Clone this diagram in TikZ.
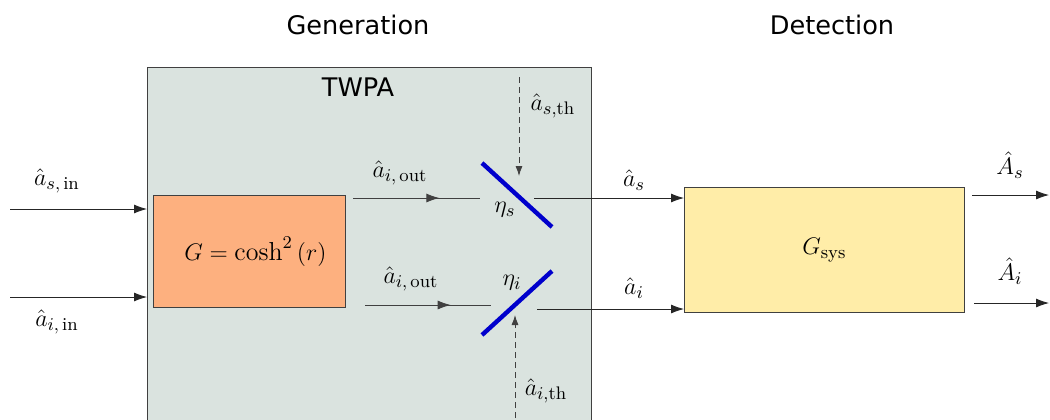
\documentclass[tikz,border=0pt]{standalone}
\usepackage{amsmath,amssymb}
\usepackage{fontspec}
\setsansfont{DejaVu Sans}
\usetikzlibrary{arrows.meta,decorations.markings}
\definecolor{twpagrey}{HTML}{DAE3DF}
\definecolor{pumporange}{HTML}{FDB07F}
\definecolor{sysyellow}{HTML}{FFEDA8}

\begin{document}
\begin{tikzpicture}[x=0.5pt,y=-0.5pt,
    blk/.style={draw=black!75, inner sep=0pt, anchor=north west},
    sig/.style={-{Latex[length=6.5pt,width=4.5pt]}, black!85},
    midsig/.style={black!75, postaction={decorate},
      decoration={markings, mark=at position 0.68 with {\arrow{Latex[length=6.5pt,width=4.5pt]}}}},
    therm/.style={densely dashed, black!75, -{Latex[length=5pt,width=3.5pt]}},
    bsplit/.style={blue!80!black, line width=2.2pt},
    lbl/.style={font=\fontsize{13}{15}\selectfont},
    head/.style={font=\sffamily\fontsize{12.8}{15}\selectfont}]
    \useasboundingbox (0,0) rectangle (1050,419);
\node[head] (gen) at (358,25) {Generation};
\node[head] (det) at (832,25) {Detection};
% amplifier
\node[blk, fill=twpagrey, minimum width=222pt, minimum height=180pt] (twpa) at (147,67) {};
\node[head] (twpalbl) at (358,87) {TWPA};
\node[blk, fill=pumporange, minimum width=96pt, minimum height=56pt, lbl] (amp) at (153,195) {\hspace{6pt}$G = \cosh^2\left(r\right)$};
\node[blk, fill=sysyellow, minimum width=140pt, minimum height=62.5pt, lbl] (sys) at (684,187) {$G_{\mathrm{sys}}$};
% end points
\coordinate (sin) at (10,209);
\coordinate (iin) at (10,297);
\coordinate (souta) at (353,198);
\coordinate (soutb) at (480,198);
\coordinate (iouta) at (365,305);
\coordinate (ioutb) at (491,305);
\coordinate (bssa) at (482,163);
\coordinate (bssb) at (552,227);
\coordinate (bsia) at (482,335);
\coordinate (bsib) at (552,271);
\coordinate (sth) at (519,77);
\coordinate (ssplit) at (519,176);
\coordinate (ith) at (515,418);
\coordinate (isplit) at (515,315);
\coordinate (sfin) at (534,198);
\coordinate (ifin) at (537,309);
\coordinate (Sa) at (972,195);
\coordinate (Sb) at (1049,195);
\coordinate (Ia) at (974,303);
\coordinate (Ib) at (1049,303);
% signal and idler paths
\draw[sig] (sin) -- (sin -| twpa.west);
\node[lbl] (sinlbl) at (57,181) {$\hat{a}_{s,\,\mathrm{in}}$};
\draw[sig] (iin) -- (iin -| twpa.west);
\node[lbl] (iinlbl) at (57,322) {$\hat{a}_{i,\,\mathrm{in}}$};
\draw[midsig] (souta) -- (soutb);
\node[lbl] (soutlbl) at (400,173) {$\hat{a}_{i,\,\mathrm{out}}$};
\draw[midsig] (iouta) -- (ioutb);
\node[lbl] (ioutlbl) at (411,279) {$\hat{a}_{i,\,\mathrm{out}}$};
% beam splitters
\draw[bsplit] (bssa) -- (bssb);
\node[lbl] (etas) at (505,210) {$\eta_s$};
\draw[bsplit] (bsia) -- (bsib);
\node[lbl] (etai) at (512,283) {$\eta_i$};
\draw[therm] (sth) -- (ssplit);
\node[lbl] (sthlbl) at (553,106) {$\hat{a}_{s,\mathrm{th}}$};
\draw[therm] (ith) -- (isplit);
\node[lbl] (ithlbl) at (546,391) {$\hat{a}_{i,\mathrm{th}}$};
% towards detection
\draw[sig] (sfin) -- (sfin -| sys.west);
\node[lbl] (slbl) at (634,180) {$\hat{a}_s$};
\draw[sig] (ifin) -- (ifin -| sys.west);
\node[lbl] (ilbl) at (634,288) {$\hat{a}_i$};
\draw[sig] (Sa) -- (Sb);
\node[lbl] (Slbl) at (1010,165) {$\hat{A}_s$};
\draw[sig] (Ia) -- (Ib);
\node[lbl] (Ilbl) at (1010,271) {$\hat{A}_i$};
\end{tikzpicture}
\end{document}
